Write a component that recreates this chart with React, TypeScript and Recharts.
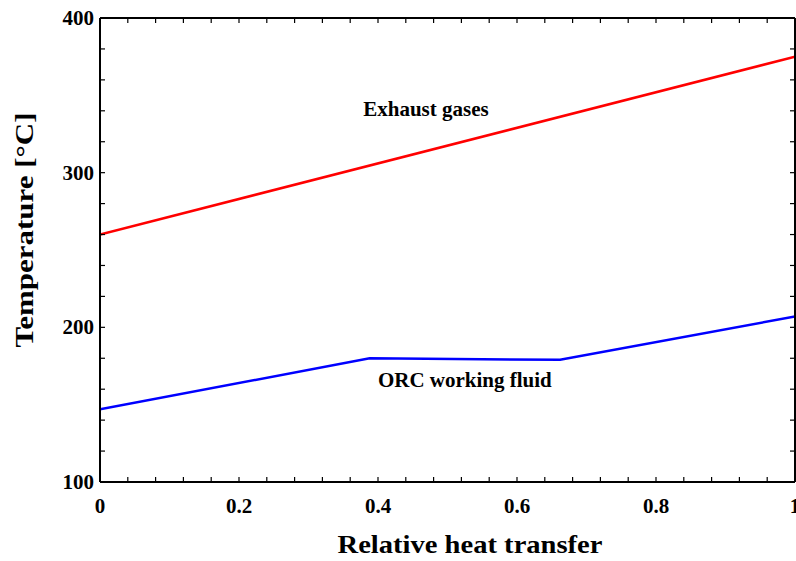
import React from "react";
import { LineChart, Line, XAxis, YAxis, ReferenceDot, Label } from "recharts";

// Relative heat transfer (0..1) vs temperature [°C]
const exhaustQ = [0, 1];
const exhaustT = [260, 375];
const orcQ = [0, 0.388, 0.662, 1];
const orcT = [147, 180, 179, 207];

const xLabels = [0, 0.2, 0.4, 0.6, 0.8, 1];
const yLabels = [100, 200, 300, 400];

const annotations = [
  { text: "Exhaust gases", q: 0.469, t: 341 },
  { text: "ORC working fluid", q: 0.525, t: 166 },
];

const FONT = "'Liberation Serif', 'Times New Roman', serif";

// small inward ticks every 0.04 / 20 °C
const xTicks = Array.from({ length: 26 }, (_, i) => Math.round(i * 4) / 100);
const yTicks = Array.from({ length: 16 }, (_, i) => 100 + i * 20);

const exhaust = exhaustQ.map((q, i) => ({ q, t: exhaustT[i] }));
const orc = orcQ.map((q, i) => ({ q, t: orcT[i] }));

const TICK = 5;
const near = (v: number, list: number[]) => list.some((l) => Math.abs(l - v) < 1e-6);
const fmtX = (v: number) => (v === 0 || v === 1 ? String(v) : v.toFixed(1));

const BottomTick = (p: any) => {
  const v = p.payload.value;
  return (
    <g>
      <line x1={p.x} x2={p.x} y1={p.y} y2={p.y - TICK} stroke="#000" strokeWidth={1.2} />
      {near(v, xLabels) && (
        <text x={p.x} y={p.y + 31} textAnchor="middle" fontFamily={FONT} fontWeight="bold" fontSize={21} fill="#000">
          {fmtX(v)}
        </text>
      )}
    </g>
  );
};

const TopTick = (p: any) => (
  <line x1={p.x} x2={p.x} y1={p.y} y2={p.y + TICK} stroke="#000" strokeWidth={1.2} />
);

const LeftTick = (p: any) => {
  const v = p.payload.value;
  return (
    <g>
      <line x1={p.x} x2={p.x + TICK} y1={p.y} y2={p.y} stroke="#000" strokeWidth={1.2} />
      {near(v, yLabels) && (
        <text x={p.x - 6} y={p.y + 7} textAnchor="end" fontFamily={FONT} fontWeight="bold" fontSize={21} fill="#000">
          {v}
        </text>
      )}
    </g>
  );
};

const RightTick = (p: any) => (
  <line x1={p.x} x2={p.x - TICK} y1={p.y} y2={p.y} stroke="#000" strokeWidth={1.2} />
);

const AnnotationText = (text: string) => (p: any) => (
  <text x={p.cx} y={p.cy + 7} textAnchor="middle" fontFamily={FONT} fontWeight="bold" fontSize={21} fill="#000">
    {text}
  </text>
);

const axisLine = { stroke: "#000", strokeWidth: 2 };

export default function App() {
  return (
    <div style={{ position: "absolute", left: 0, top: 0, background: "#fff" }}>
      <LineChart width={796} height={561} margin={{ top: 17, right: 0, bottom: 78, left: 99 }}>
        <XAxis
          xAxisId="b"
          dataKey="q"
          type="number"
          domain={[0, 1]}
          allowDataOverflow
          ticks={xTicks}
          interval={0}
          height={1}
          tickSize={0}
          tickMargin={0}
          tickLine={false}
          axisLine={axisLine}
          tick={BottomTick}
        >
          <Label
            content={({ viewBox }: any) => (
              <text
                x={viewBox.x + 370}
                y={viewBox.y + 71}
                textAnchor="middle"
                fontFamily={FONT}
                fontWeight="bold"
                fontSize={25}
                textLength={265}
                lengthAdjust="spacingAndGlyphs"
                fill="#000"
              >
                Relative heat transfer
              </text>
            )}
          />
        </XAxis>
        <XAxis
          xAxisId="t"
          dataKey="q"
          type="number"
          orientation="top"
          domain={[0, 1]}
          allowDataOverflow
          ticks={xTicks}
          interval={0}
          height={1}
          tickSize={0}
          tickMargin={0}
          tickLine={false}
          axisLine={axisLine}
          tick={TopTick}
        />
        <YAxis
          yAxisId="l"
          dataKey="t"
          type="number"
          domain={[100, 400]}
          allowDataOverflow
          ticks={yTicks}
          interval={0}
          width={1}
          tickSize={0}
          tickMargin={0}
          tickLine={false}
          axisLine={axisLine}
          tick={LeftTick}
        >
          <Label
            content={() => (
              <text
                x={33}
                y={230}
                transform="rotate(-90 33 230)"
                textAnchor="middle"
                fontFamily={FONT}
                fontWeight="bold"
                fontSize={26}
                textLength={235}
                lengthAdjust="spacingAndGlyphs"
                fill="#000"
              >
                Temperature [°C]
              </text>
            )}
          />
        </YAxis>
        <YAxis
          yAxisId="r"
          dataKey="t"
          type="number"
          orientation="right"
          domain={[100, 400]}
          allowDataOverflow
          ticks={yTicks}
          interval={0}
          width={1}
          tickSize={0}
          tickMargin={0}
          tickLine={false}
          axisLine={axisLine}
          tick={RightTick}
        />
        <Line
          data={exhaust}
          dataKey="t"
          xAxisId="b"
          yAxisId="l"
          type="linear"
          stroke="#ff0000"
          strokeWidth={2.5}
          dot={false}
          isAnimationActive={false}
        />
        <Line
          data={orc}
          dataKey="t"
          xAxisId="b"
          yAxisId="l"
          type="linear"
          stroke="#0000ff"
          strokeWidth={2.5}
          dot={false}
          isAnimationActive={false}
        />
        {annotations.map((a) => (
          <ReferenceDot
            key={a.text}
            x={a.q}
            y={a.t}
            xAxisId="b"
            yAxisId="l"
            r={0}
            shape={AnnotationText(a.text)}
          />
        ))}
      </LineChart>
    </div>
  );
}
